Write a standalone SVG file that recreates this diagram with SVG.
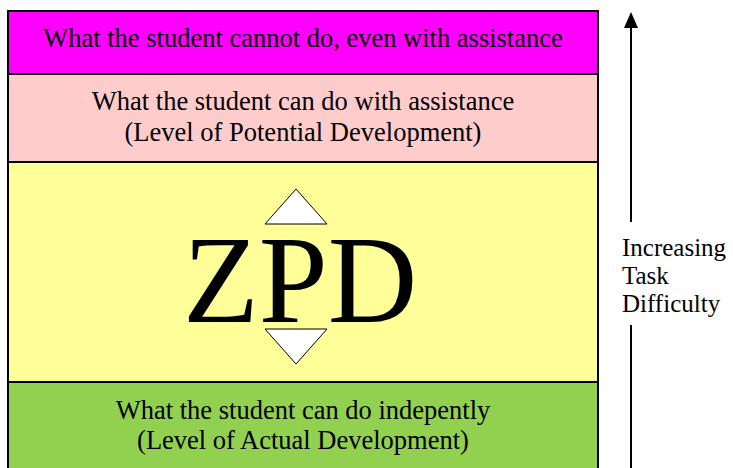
<svg xmlns="http://www.w3.org/2000/svg" width="733" height="468" viewBox="0 0 733 468">
<style>
.band{stroke:#000;stroke-width:2}
.t{font-family:"Liberation Serif","Times New Roman",serif;font-size:26.5px;fill:#000;text-anchor:middle}
.side{font-family:"Liberation Serif","Times New Roman",serif;font-size:25px;fill:#000}
.tri{fill:#fff;stroke:#000;stroke-width:1}
</style>
<rect width="733" height="468" fill="#fff"/>
<g id="cannot">
<rect class="band" x="8" y="11" width="590" height="63" fill="#FF00FF"/>
<text class="t" x="303" y="47">What the student cannot do, even with assistance</text>
</g>
<g id="potential">
<rect class="band" x="8" y="74" width="590" height="88" fill="#FFCCCC"/>
<text class="t" x="303" y="110">What the student can do with assistance</text>
<text class="t" x="303" y="141">(Level of Potential Development)</text>
</g>
<g id="zpd">
<rect class="band" x="8" y="162" width="590" height="220" fill="#FFFF99"/>
<text x="183" y="322" style="font-family:'Liberation Serif','Times New Roman',serif;font-size:124px;fill:#000">ZPD</text>
<polygon class="tri" points="296,189 327,224 265,224"/>
<polygon class="tri" points="265,329 327,329 296,364"/>
</g>
<g id="actual">
<rect class="band" x="8" y="382" width="590" height="100" fill="#92D050"/>
<text class="t" x="303" y="419">What the student can do indepently</text>
<text class="t" x="303" y="449">(Level of Actual Development)</text>
</g>
<g id="connectors">
<line x1="631" y1="26" x2="631" y2="222" stroke="#000" stroke-width="2"/>
<line x1="631" y1="325" x2="631" y2="468" stroke="#000" stroke-width="2"/>
<polygon points="631,12 624,28 638,28" fill="#000"/>
</g>
<g id="label">
<text class="side" x="622" y="256">Increasing</text>
<text class="side" x="622" y="284">Task</text>
<text class="side" x="622" y="312">Difficulty</text>
</g>
</svg>
